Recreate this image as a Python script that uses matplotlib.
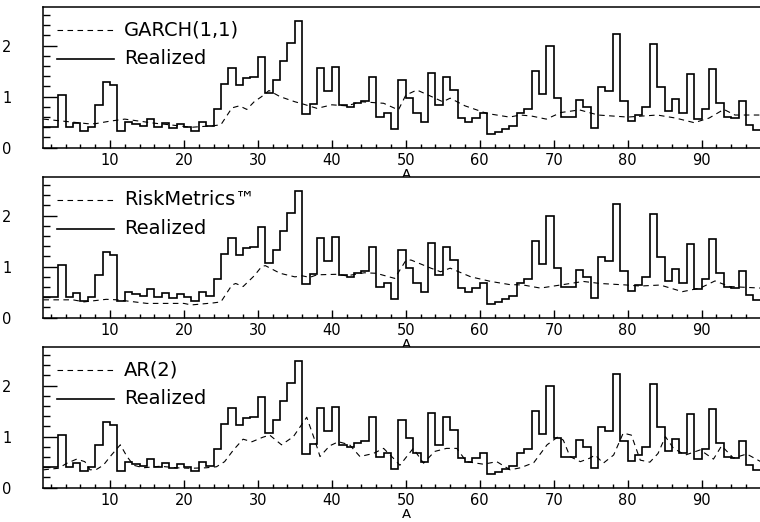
import numpy as np
import matplotlib
matplotlib.use("Agg")
import matplotlib.pyplot as plt
from matplotlib.ticker import MultipleLocator, FixedLocator

# ---- data ----
bin_edges = list(range(1, 99))  # 97 unit bins, 1..98
realized = [
    0.41, 0.41, 1.04, 0.41, 0.49, 0.33, 0.41, 0.84, 1.28, 1.22,
    0.33, 0.50, 0.47, 0.42, 0.56, 0.41, 0.49, 0.39, 0.46, 0.41,
    0.33, 0.50, 0.42, 0.76, 1.24, 1.56, 1.23, 1.37, 1.38, 1.78,
    1.07, 1.33, 1.69, 2.05, 2.48, 0.66, 0.85, 1.57, 1.12, 1.58,
    0.83, 0.79, 0.88, 0.92, 1.39, 0.61, 0.67, 0.37, 1.32, 0.98,
    0.67, 0.50, 1.46, 0.83, 1.38, 1.13, 0.59, 0.50, 0.59, 0.67,
    0.27, 0.31, 0.36, 0.42, 0.67, 0.75, 1.51, 1.05, 1.99, 0.98,
    0.61, 0.61, 0.93, 0.79, 0.38, 1.18, 1.12, 2.22, 0.92, 0.52,
    0.64, 0.79, 2.03, 1.18, 0.72, 0.95, 0.67, 1.44, 0.56, 0.75,
    1.55, 0.87, 0.61, 0.58, 0.92, 0.44, 0.35,
]

garch_x = [1, 3, 5, 7, 8, 10, 12, 14, 16, 18, 21, 24, 25, 26.5, 27.5, 28.5, 29.5,
           30.5, 31.5, 33, 35, 36, 38, 40, 42, 44, 47, 49, 50, 51.5, 53.5, 55, 56,
           58, 61, 64, 65.5, 67, 69, 71, 73.5, 76, 80, 84, 86.5, 89, 91, 93, 94.5, 98]
garch_y = [0.56, 0.53, 0.50, 0.47, 0.47, 0.52, 0.56, 0.52, 0.48, 0.45, 0.40, 0.43,
           0.45, 0.78, 0.82, 0.75, 0.90, 1.00, 1.12, 1.00, 0.90, 0.86, 0.77, 0.84,
           0.82, 0.90, 0.87, 0.74, 1.03, 1.13, 1.00, 0.90, 0.97, 0.82, 0.67, 0.60,
           0.64, 0.62, 0.56, 0.69, 0.74, 0.64, 0.60, 0.64, 0.58, 0.49, 0.58, 0.75,
           0.64, 0.64]

risk_x = [1, 5, 6.5, 9.5, 11, 15, 20, 21, 24, 25, 26.5, 27, 28, 29.5, 30.5, 31,
          33, 35, 36, 37, 38, 40.6, 42, 44.4, 46, 48.5, 50, 50.7, 53.4, 54.7, 56,
          58.8, 61.5, 64, 65.9, 68.2, 70.9, 74, 76.3, 79.9, 81.7, 84.4, 87.4, 89.8,
          91.8, 93.8, 98]
risk_y = [0.35, 0.35, 0.31, 0.36, 0.35, 0.28, 0.28, 0.25, 0.29, 0.31, 0.64, 0.67,
          0.61, 0.82, 1.00, 1.02, 0.87, 0.80, 0.82, 0.79, 0.84, 0.85, 0.82, 0.88,
          0.87, 0.77, 1.12, 1.13, 0.97, 0.90, 0.97, 0.80, 0.71, 0.65, 0.64, 0.58,
          0.64, 0.71, 0.67, 0.64, 0.62, 0.64, 0.51, 0.58, 0.72, 0.61, 0.58]

ar_x = [1, 3, 4.2, 5.5, 6.6, 7.3, 8.2, 9.1, 10.2, 11.4, 12.3, 13.2, 14.5, 16.8, 19,
        20.8, 23, 24.4, 25.5, 26.7, 28, 29.2, 30.7, 31.6, 33.2, 34.8, 36.6, 37.7,
        38.4, 39.7, 40.9, 42.4, 43.8, 45.6, 47, 48.3, 49.2, 51, 52.4, 53.9, 55.5,
        56.9, 58.2, 60.5, 62.3, 64.1, 65.5, 67.3, 69.1, 70.6, 71.3, 72.2, 73.6,
        74.9, 75.6, 76.7, 78.1, 79.4, 80.5, 81.7, 83, 84.1, 85.1, 86.2, 87.8, 89.8,
        91.6, 92.7, 94.3, 96.1, 98]
ar_y = [0.35, 0.38, 0.48, 0.56, 0.51, 0.35, 0.36, 0.44, 0.64, 0.84, 0.61, 0.44,
        0.39, 0.42, 0.39, 0.38, 0.39, 0.41, 0.51, 0.74, 0.95, 0.90, 0.99, 1.03,
        0.84, 1.00, 1.38, 0.93, 0.61, 0.82, 0.90, 0.84, 0.61, 0.67, 0.77, 0.58,
        0.44, 0.77, 0.48, 0.71, 0.77, 0.77, 0.51, 0.46, 0.51, 0.35, 0.39, 0.49,
        0.84, 1.00, 0.93, 0.61, 0.51, 0.58, 0.64, 0.48, 0.64, 1.07, 1.03, 0.54,
        0.50, 0.67, 1.00, 0.77, 0.64, 0.74, 0.56, 0.82, 0.58, 0.66, 0.51]

model_names = ["GARCH(1,1)", "RiskMetrics\u2122", "AR(2)"]
model_x = [garch_x, risk_x, ar_x]
model_y = [garch_y, risk_y, ar_y]
x_tick_vals = [10, 20, 30, 40, 50, 60, 70, 80, 90]
y_tick_vals = [0, 1, 2]

# ---- figure ----
plt.rcParams['font.family'] = ['DejaVu Sans']
W, H = 760, 522
fig = plt.figure(figsize=(W / 100, H / 100), dpi=100)

left = 43.4 / W
width = 717.4 / W
height = 140.4 / H
bottoms = [1 - 147.7 / H, 1 - 317.7 / H, 1 - 487.7 / H]

for i in range(3):
    ax = fig.add_axes([left, bottoms[i], width, height])
    ax.stairs(realized, bin_edges, color='black', lw=1.2, baseline=None)
    ax.plot(model_x[i], model_y[i], color='black', lw=0.8, dashes=(5, 4))
    ax.set_xlim(1, 98)
    ax.set_ylim(0, 2.75)
    ax.spines['right'].set_visible(False)
    for s in ['left', 'bottom', 'top']:
        ax.spines[s].set_linewidth(1.1)
    ax.xaxis.set_major_locator(FixedLocator(x_tick_vals))
    ax.xaxis.set_minor_locator(MultipleLocator(2))
    ax.yaxis.set_major_locator(FixedLocator(y_tick_vals))
    ax.yaxis.set_minor_locator(MultipleLocator(0.2))
    ax.tick_params(axis='x', which='major', direction='in', length=6, width=1,
                   labelsize=10.5, pad=4, top=False)
    ax.tick_params(axis='x', which='minor', direction='in', length=3, width=1, top=False)
    ax.tick_params(axis='y', which='major', direction='in', length=10, width=1,
                   labelsize=10.5, pad=23, right=False)
    ax.tick_params(axis='y', which='minor', direction='in', length=5, width=1, right=False)
    ax.set_xlabel('A', fontsize=9.5)
    ax.xaxis.set_label_coords(0.506, -0.145)

    # legend
    x0, x1, xt = 0.019, 0.098, 0.1125
    ya, yb = 0.84, 0.635
    ax.plot([x0, x1], [ya, ya], transform=ax.transAxes, color='black', lw=0.8,
            dashes=(5, 4))
    ax.text(xt, ya, model_names[i], transform=ax.transAxes, fontsize=14,
            va='center', ha='left')
    ax.plot([x0, x1], [yb, yb], transform=ax.transAxes, color='black', lw=1.2)
    ax.text(xt, yb, 'Realized', transform=ax.transAxes, fontsize=14,
            va='center', ha='left')

fig.savefig('out.png', dpi=100)
